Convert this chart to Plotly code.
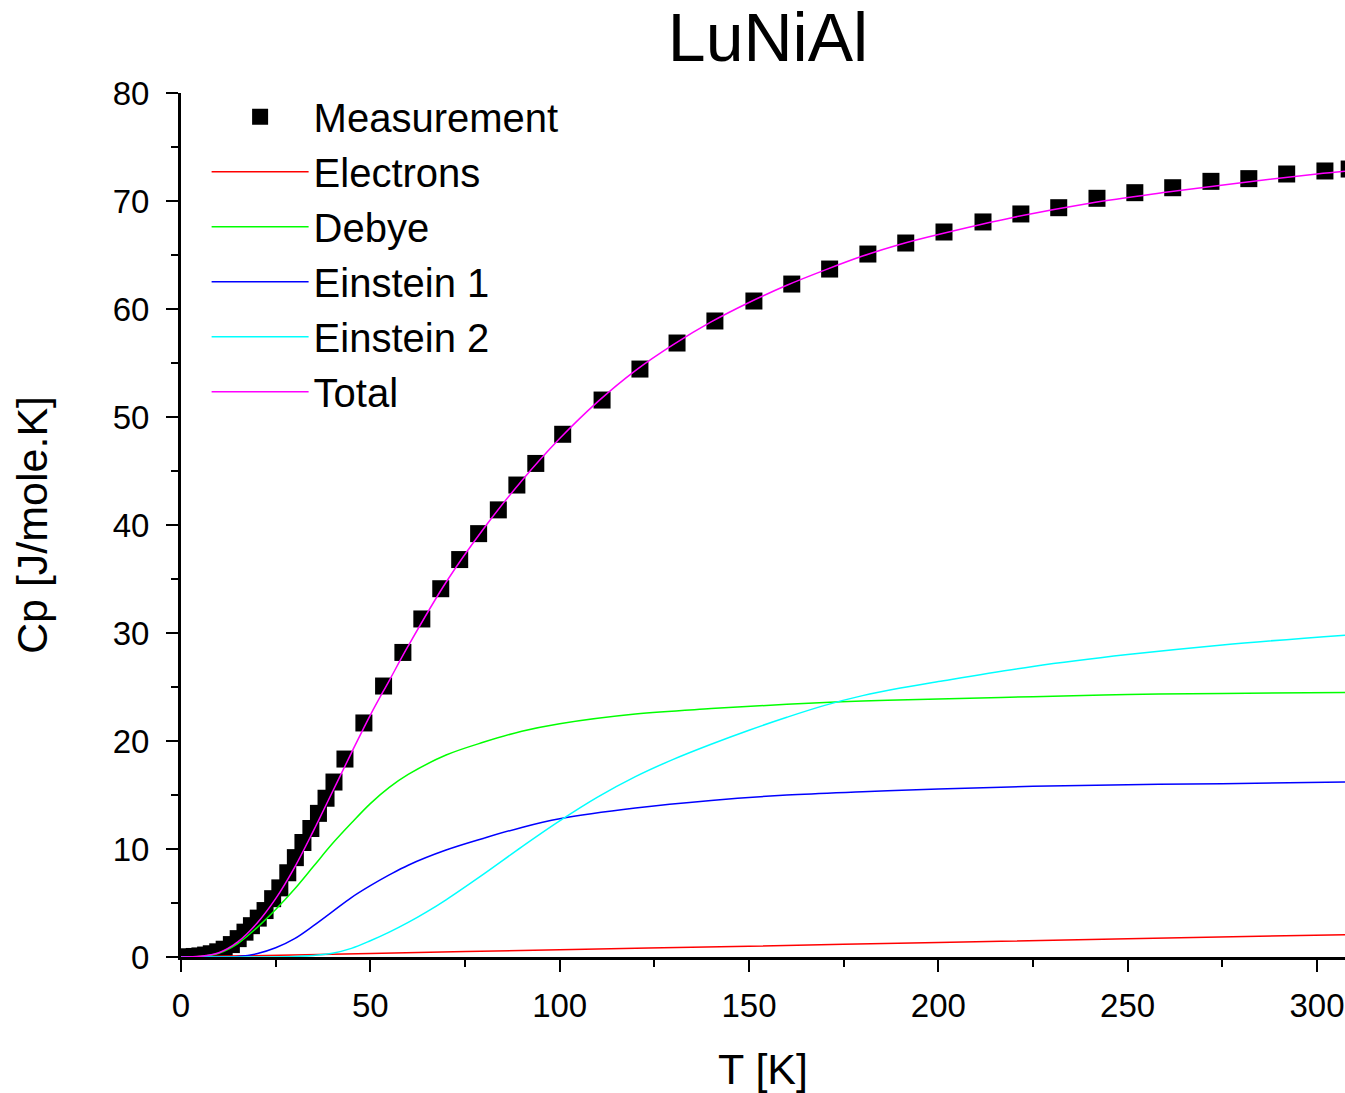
import plotly.graph_objects as go

# ---- data ----
meas_T = [2, 3.5, 5, 6.5, 8, 9.7, 11.4, 13.3, 15.1, 16.9, 18.6, 20.4, 22.2, 24.2, 26.1,
          28.2, 30.2, 32.2, 34.3, 36.3, 38.3, 40.4, 43.3, 48.3, 53.5, 58.6, 63.6, 68.6,
          73.6, 78.6, 83.8, 88.7, 93.7, 100.8, 111.2, 121.2, 131, 141, 151.3, 161.3,
          171.3, 181.4, 191.4, 201.5, 211.8, 221.8, 231.8, 241.9, 251.9, 261.9, 272,
          282, 292, 302.1, 308.5]
meas_Cp = [0.02, 0.05, 0.1, 0.18, 0.3, 0.48, 0.72, 1.15, 1.7, 2.3, 2.9, 3.6, 4.3, 5.4,
           6.4, 7.8, 9.2, 10.6, 11.9, 13.3, 14.7, 16.2, 18.33, 21.67, 25.09, 28.2, 31.3,
           34.1, 36.8, 39.2, 41.4, 43.7, 45.7, 48.4, 51.57, 54.44, 56.85, 58.89, 60.74,
           62.31, 63.7, 65.09, 66.11, 67.13, 68.06, 68.8, 69.38, 70.25, 70.77, 71.23,
           71.82, 72.07, 72.5, 72.78, 72.96]

el_T = [0, 50, 100, 150, 200, 250, 307.4]
el_Cp = [0, 0.33, 0.67, 1.0, 1.35, 1.68, 2.07]

deb_T = [0, 5, 10, 15, 20, 25, 30, 35, 40, 45, 50, 55, 60, 70, 80, 90, 100, 120, 140,
         160, 180, 200, 225, 250, 275, 307.4]
deb_Cp = [0, 0.05, 0.35, 1.25, 2.7, 4.4, 6.3, 8.4, 10.5, 12.4, 14.2, 15.7, 16.9, 18.7,
          19.9, 20.9, 21.6, 22.5, 23.0, 23.4, 23.7, 23.9, 24.1, 24.3, 24.4, 24.5]

e1_T = [0, 10, 15, 20, 25, 30, 35, 40, 45, 50, 55, 60, 70, 80, 90, 100, 120, 140, 160,
        180, 200, 225, 250, 275, 307.4]
e1_Cp = [0, 0, 0.05, 0.3, 0.85, 1.7, 2.9, 4.2, 5.5, 6.6, 7.6, 8.5, 9.9, 11.0, 12.0, 12.8,
         13.8, 14.5, 15.0, 15.3, 15.55, 15.8, 15.95, 16.05, 16.2]

e2_T = [0, 20, 30, 35, 40, 45, 50, 55, 60, 65, 70, 80, 90, 100, 110, 120, 130, 140, 150,
        160, 170, 180, 190, 200, 225, 250, 275, 307.4]
e2_Cp = [0, 0, 0.05, 0.15, 0.35, 0.8, 1.5, 2.3, 3.2, 4.2, 5.3, 7.7, 10.2, 12.6, 14.8,
         16.7, 18.3, 19.7, 21.0, 22.2, 23.3, 24.2, 24.9, 25.5, 26.9, 28.0, 28.9, 29.8]

tot_T = [0, 5, 10, 15, 20, 25, 30, 35, 40, 45, 50, 55, 60, 70, 80, 90, 100, 110, 120, 130,
         140, 150, 160, 170, 180, 190, 200, 220, 240, 260, 280, 300, 307.4]
tot_Cp = [0, 0.06, 0.4, 1.4, 3.1, 5.4, 8.3, 11.7, 15.3, 18.9, 22.4, 25.6, 28.8, 34.7,
          39.7, 44.1, 48.0, 51.4, 54.3, 56.7, 58.8, 60.6, 62.2, 63.6, 64.9, 66.0, 66.9,
          68.5, 69.8, 70.8, 71.7, 72.5, 72.75]

x_ticks = [0, 50, 100, 150, 200, 250, 300]
y_ticks = [0, 10, 20, 30, 40, 50, 60, 70, 80]

FONT = "Liberation Sans, Arial, sans-serif"

fig = go.Figure()
fig.add_trace(go.Scatter(x=meas_T, y=meas_Cp, mode="markers", name="Measurement",
                         marker=dict(symbol="square", size=17, color="black",
                                     line=dict(width=0))))
for name, xs, ys, col in [("Electrons", el_T, el_Cp, "#FF0000"),
                          ("Debye", deb_T, deb_Cp, "#00FF00"),
                          ("Einstein 1", e1_T, e1_Cp, "#0000FF"),
                          ("Einstein 2", e2_T, e2_Cp, "#00FFFF"),
                          ("Total", tot_T, tot_Cp, "#FF00FF")]:
    fig.add_trace(go.Scatter(x=xs, y=ys, mode="lines", name=name,
                             line=dict(color=col, width=1.5, shape="spline")))

axis_common = dict(showline=True, linecolor="black", linewidth=3, ticks="outside",
                   ticklen=12, tickwidth=2, tickcolor="black", showgrid=False,
                   zeroline=False, tickfont=dict(family=FONT, size=33, color="black"),
                   mirror=False)

fig.update_xaxes(range=[0, 307.4], tickvals=x_ticks,
                 minor=dict(ticks="outside", ticklen=7, tickwidth=2, tickcolor="black",
                            dtick=25, tick0=0),
                 title=dict(text="T [K]", font=dict(family=FONT, size=43, color="black"),
                            standoff=32),
                 ticklabelstandoff=5,
                 **axis_common)
fig.update_yaxes(range=[0, 80], tickvals=y_ticks,
                 minor=dict(ticks="outside", ticklen=7, tickwidth=2, tickcolor="black",
                            dtick=5, tick0=0),
                 title=dict(text="Cp [J/mole.K]", font=dict(family=FONT, size=43, color="black"),
                            standoff=52),
                 ticklabelstandoff=10,
                 **axis_common)

fig.update_layout(
    width=1345, height=1093,
    margin=dict(l=181, r=0, t=93, b=136),
    paper_bgcolor="white", plot_bgcolor="white",
    title=dict(text="LuNiAl", font=dict(family=FONT, size=68, color="black"),
               x=0.571, xanchor="center", y=0.966, yanchor="middle"),
    legend=dict(x=0.022, y=1.01, xanchor="left", yanchor="top",
                font=dict(family=FONT, size=40, color="black"),
                bgcolor="rgba(0,0,0,0)", itemwidth=97, tracegroupgap=0),
    font=dict(family=FONT),
)

fig.write_html("out.html")
